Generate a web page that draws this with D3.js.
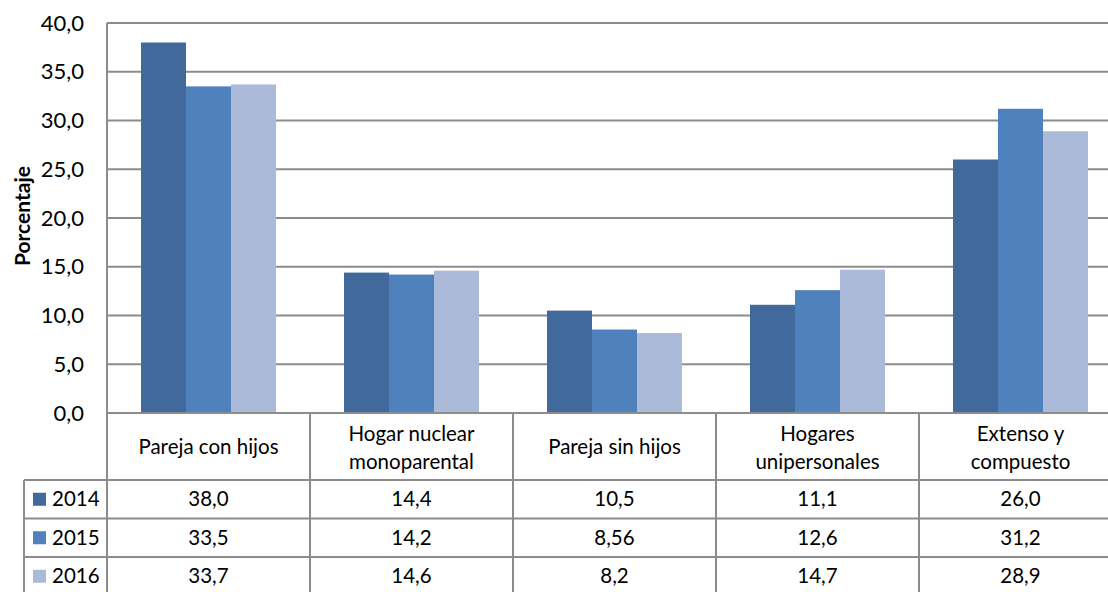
<!DOCTYPE html>
<html><head><meta charset="utf-8">
<script src="https://cdn.jsdelivr.net/npm/d3@7"></script>
<style>body{margin:0;background:#fff}svg{display:block}text{font-family:Lato,"Open Sans",sans-serif;fill:#000}</style>
</head><body>
<script>
const categories = [["Pareja con hijos"],["Hogar nuclear","monoparental"],["Pareja sin hijos"],["Hogares","unipersonales"],["Extenso y","compuesto"]];
const years = ["2014","2015","2016"];
const v2014 = [38.0,14.4,10.5,11.1,26.0];
const v2015 = [33.5,14.2,8.56,12.6,31.2];
const v2016 = [33.7,14.6,8.2,14.7,28.9];
const tableText = [["38,0","14,4","10,5","11,1","26,0"],["33,5","14,2","8,56","12,6","31,2"],["33,7","14,6","8,2","14,7","28,9"]];
const yTicks = [0,5,10,15,20,25,30,35,40];
const colors = ["#41699b","#4f81bd","#aabad8"];
const series = [v2014,v2015,v2016];

const W=1108,H=592;
const svg=d3.select("body").append("svg").attr("width",W).attr("height",H);
const left=107, catW=203, plotTop=23, base=413;
const x=d3.scaleBand().domain(d3.range(5)).range([left,left+5*catW]).paddingInner(0).paddingOuter(0);
const y=d3.scaleLinear().domain([0,40]).range([base,plotTop]);
const inner=d3.scaleBand().domain(d3.range(3)).range([34,catW-34]);
const grid="#8c8c8c";
const FS=20.5;

svg.append("g").selectAll("line").data(yTicks.filter(t=>t>0)).join("line")
 .attr("x1",left).attr("x2",W).attr("y1",d=>y(d)).attr("y2",d=>y(d)).attr("stroke",grid).attr("stroke-width",2);
svg.append("g").selectAll("text").data(yTicks).join("text")
 .attr("x",84).attr("y",d=>y(d)+7.5).attr("text-anchor","end").attr("font-size",22)
 .text(d=>d3.format(".1f")(d).replace(".",","));
series.forEach((s,i)=>{
 svg.append("g").selectAll("rect").data(s).join("rect")
  .attr("x",(d,j)=>x(j)+inner(i)).attr("width",inner.bandwidth())
  .attr("y",d=>y(d)).attr("height",d=>base-y(d)).attr("fill",colors[i]);
});
svg.append("text").attr("transform","translate(30,216) rotate(-90)").attr("text-anchor","middle")
 .attr("font-size",21).attr("font-weight","bold").text("Porcentaje");

const rowTop=[413,480,518.5,557,595.5];
const lines=svg.append("g").attr("stroke",grid).attr("stroke-width",2);
lines.append("line").attr("x1",left).attr("x2",W).attr("y1",base).attr("y2",base);
[480,518.5,557].forEach(yy=>lines.append("line").attr("x1",24).attr("x2",W).attr("y1",yy).attr("y2",yy));
lines.append("line").attr("x1",left).attr("x2",left).attr("y1",plotTop).attr("y2",H);
d3.range(1,5).forEach(j=>lines.append("line").attr("x1",x(j)).attr("x2",x(j)).attr("y1",base).attr("y2",H));
lines.append("line").attr("x1",24).attr("x2",24).attr("y1",480).attr("y2",H);

categories.forEach((c,j)=>{
 const cx=x(j)+catW/2;
 const t=svg.append("text").attr("text-anchor","middle").attr("font-size",FS);
 if(c.length===1) t.append("tspan").attr("x",cx).attr("y",454).text(c[0]);
 else {t.append("tspan").attr("x",cx).attr("y",441).text(c[0]);t.append("tspan").attr("x",cx).attr("y",469).text(c[1]);}
});
years.forEach((yr,i)=>{
 const ry=(rowTop[i+1]+rowTop[i+2])/2;
 svg.append("rect").attr("x",33).attr("y",ry-6.5).attr("width",13).attr("height",13).attr("fill",colors[i]);
 svg.append("text").attr("x",52).attr("y",ry+7).attr("font-size",FS).text(yr);
 tableText[i].forEach((tv,j)=>{
  svg.append("text").attr("x",x(j)+catW/2).attr("y",ry+7).attr("text-anchor","middle").attr("font-size",FS).text(tv);
 });
});
</script>
</body></html>
